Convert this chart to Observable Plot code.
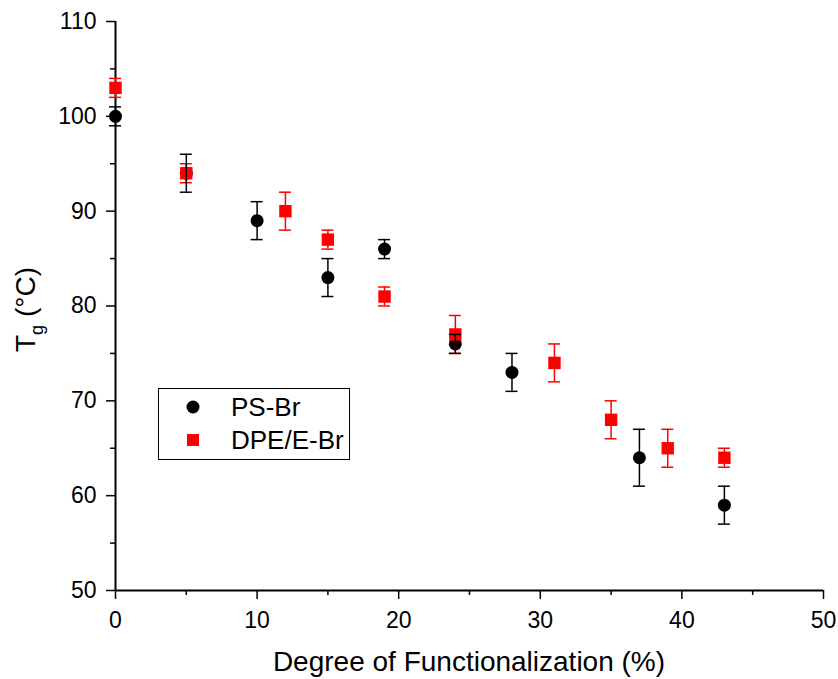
<!DOCTYPE html>
<html>
<head>
<meta charset="utf-8">
<script src="https://cdn.jsdelivr.net/npm/d3@7"></script>
<script src="https://cdn.jsdelivr.net/npm/@observablehq/plot@0.6"></script>
<style>
  html, body { margin: 0; padding: 0; background: #fff; }
  #chart { position: relative; width: 838px; height: 679px; }
</style>
</head>
<body>
<div id="chart"></div>
<script>
// PS-Br series (black circles)
const psX   = [0, 5, 10, 15, 19, 24, 28, 37, 43];
const psY   = [100, 94, 89, 83, 86, 76, 73, 64, 59];
const psErr = [1, 2, 2, 2, 1, 1, 2, 3, 2];
// DPE/E-Br series (red squares)
const dpeX   = [0, 5, 12, 15, 19, 24, 31, 35, 39, 43];
const dpeY   = [103, 94, 90, 87, 81, 77, 74, 68, 65, 64];
const dpeErr = [1, 1, 2, 1, 1, 2, 2, 2, 2, 1];
// axes
const xMajor = [0, 10, 20, 30, 40, 50];
const xMinor = [5, 15, 25, 35, 45];
const yMajor = [50, 60, 70, 80, 90, 100, 110];
const yMinor = [55, 65, 75, 85, 95, 105];
const xLabel = "Degree of Functionalization (%)";
const seriesNames = ["PS-Br", "DPE/E-Br"];
const colors = ["#000000", "#ff0000"];

const ps = psX.map((x, i) => ({x, y: psY[i], e: psErr[i]}));
const dpe = dpeX.map((x, i) => ({x, y: dpeY[i], e: dpeErr[i]}));

const font = "Arial, 'Liberation Sans', sans-serif";
const W = 838, H = 679;
const mL = 115, mR = 15, mT = 21, mB = 89;

function errBars(data, color) {
  return [
    Plot.ruleX(data, {x: "x", y1: d => d.y - d.e, y2: d => d.y + d.e, stroke: color, strokeWidth: 1.5}),
    Plot.ruleY(data, {y: d => d.y + d.e, x1: "x", x2: "x", insetLeft: -6, insetRight: -6, stroke: color, strokeWidth: 1.5}),
    Plot.ruleY(data, {y: d => d.y - d.e, x1: "x", x2: "x", insetLeft: -6, insetRight: -6, stroke: color, strokeWidth: 1.5})
  ];
}

const chart = Plot.plot({
  width: W, height: H,
  marginLeft: mL, marginRight: mR, marginTop: mT, marginBottom: mB,
  style: {fontFamily: font, background: "#fff", color: "#000"},
  x: {domain: [0, 50]},
  y: {domain: [50, 110]},
  marks: [
    Plot.axisX(xMajor, {tickSize: 9, tickPadding: 12, fontSize: 23, label: null, stroke: "#000", strokeWidth: 1.5}),
    Plot.axisX(xMinor, {tickSize: 5, tickFormat: () => "", label: null, stroke: "#000", strokeWidth: 1.5}),
    Plot.axisY(yMajor, {tickSize: 9, tickPadding: 10, fontSize: 23, label: null, stroke: "#000", strokeWidth: 1.5}),
    Plot.axisY(yMinor, {tickSize: 5, tickFormat: () => "", label: null, stroke: "#000", strokeWidth: 1.5}),
    Plot.ruleX([0], {stroke: "#000", strokeWidth: 2}),
    Plot.ruleY([50], {stroke: "#000", strokeWidth: 2}),
    Plot.dot(ps, {x: "x", y: "y", r: 6.5, fill: colors[0], stroke: null}),
    ...errBars(dpe, colors[1]),
    Plot.dot(dpe, {x: "x", y: "y", symbol: "square", r: 7, fill: colors[1], stroke: null}),
    ...errBars(ps, colors[0])
  ]
});

const svg = d3.select(chart);
svg.style("overflow", "visible");
// x axis title
svg.append("text")
  .attr("x", (mL + (W - mR)) / 2).attr("y", 671)
  .attr("text-anchor", "middle")
  .attr("font-family", font).attr("font-size", 28).attr("fill", "#000")
  .text(xLabel);
// y axis title with subscript
const yt = svg.append("text")
  .attr("transform", `translate(35, ${(mT + H - mB) / 2 + 4}) rotate(-90)`)
  .attr("text-anchor", "middle")
  .attr("font-family", font).attr("font-size", 28).attr("fill", "#000");
yt.append("tspan").text("T");
yt.append("tspan").attr("font-size", 18).attr("dy", 8).text("g");
yt.append("tspan").attr("dy", -8).text(" (°C)");

// legend
const lg = svg.append("g").attr("font-family", font).attr("font-size", 26).attr("text-anchor", "start");
lg.append("rect").attr("x", 158.5).attr("y", 388.5).attr("width", 191).attr("height", 71)
  .attr("fill", "#fff").attr("stroke", "#000").attr("stroke-width", 1);
lg.append("circle").attr("cx", 193).attr("cy", 407).attr("r", 6.5).attr("fill", colors[0]);
lg.append("rect").attr("x", 187).attr("y", 434).attr("width", 12).attr("height", 12).attr("fill", colors[1]);
lg.append("text").attr("x", 231).attr("y", 416).attr("text-anchor", "start").attr("fill", "#000").text(seriesNames[0]);
lg.append("text").attr("x", 231).attr("y", 449).attr("text-anchor", "start").attr("fill", "#000").text(seriesNames[1]);

document.getElementById("chart").appendChild(chart);
</script>
</body>
</html>
